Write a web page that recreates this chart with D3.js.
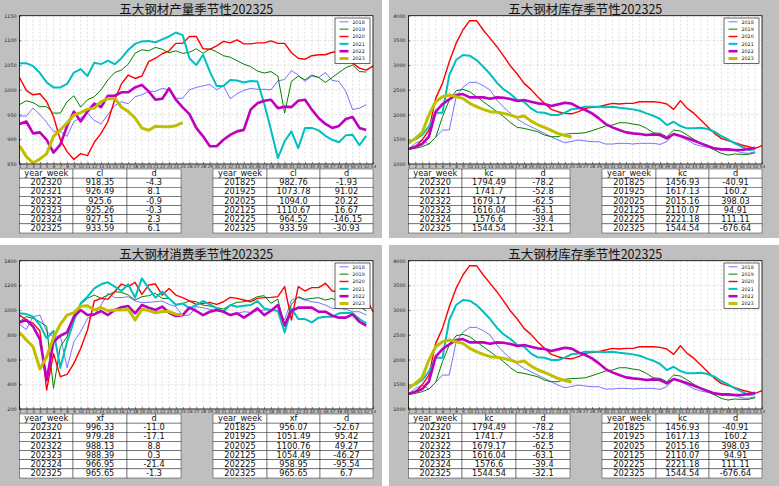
<!DOCTYPE html>
<html><head><meta charset="utf-8">
<script src="https://cdn.jsdelivr.net/npm/d3@7"></script>
<style>body{margin:0;background:#fff;} svg{display:block;}</style>
</head><body><svg id="c" width="779" height="486"></svg>
<script>
const weeks = d3.range(1, 54);
const years = ["2018","2019","2020","2021","2022","2023"];

// 产量 (cl)
const cl2018 = [947,947,963,950,934,916,916,906,936,943,953,938,931,950,968,976,972,986,990,997,997,1003,1000,983,982.76,1000,1005,1008,1011,1000,1008,982,992,999,1003,1001,1001,1000,1018,1021,1039,1030,1017,1028,1025,1035,1019,1017,997,960,963,970];
const cl2019 = [970,978,974,966,966,953,953,976,988,965,980,986,1000,1020,1035,1040,1052,1074,1081,1079,1086,1082,1075,1079,1073.78,1076,1083,1074,1083,1077,1069,1066,1059,1052,1047,1038,1034,1037,1028,953,1017,1028,1020,1030,1025,1015,1025,1035,1045,1050,1037,1036];
const cl2020 = [1025,999,990,992,976,946,899,875,859,871,867,894,912,936,980,1012,1030,1023,1028,1057,1064,1073,1079,1094,1094.0,1108,1108,1083,1082,1089,1098,1095,1101,1093,1093,1095,1095,1099,1094,1094,1075,1064,1062,1069,1071,1071,1076,1076,1067,1054,1044,1040,1048];
const cl2021 = [1054,1054,1048,1034,1015,1005,1005,1012,1035,1042,1028,1055,1052,1059,1052,1064,1081,1093,1098,1099,1096,1102,1108,1116,1110.67,1064,1050,1071,1037,1008,1008,1020,1019,1015,1018,1017,972,919,862,896,916,882,923,923,918,907,899,894,908,909,888,907];
const cl2022 = [931,936,912,914,899,873,889,927,956,936,956,972,965,988,988,995,995,1005,1010,997,980,982,1003,980,964.52,951,923,906,886,886,899,909,916,919,960,973,978,980,963,966,965,978,980,960,943,931,923,927,941,945,923,919];
const cl2023 = [887,865,852,860,871,906,919,933,949,954,961,963,976,982,983,965,956,943,922.65,918.35,926.49,925.6,925.26,927.51,933.59];

// 库存 (kc)
const kc2018 = [1303,1418,1485,1404,1539,1687,1687,2361,2550,2651,2651,2584,2496,2294,2146,2024,1910,1822,1755,1687,1620,1552,1485,1431,1456.93,1485,1465,1451,1451,1404,1404,1418,1418,1404,1418,1418,1418,1397,1451,1620,1552,1485,1404,1363,1337,1316,1283,1269,1269,1229,1215,1249];
const kc2019 = [1296,1316,1350,1404,1539,1957,2294,2483,2510,2463,2361,2260,2159,2058,1957,1835,1741,1721,1687,1653,1586,1552,1552,1600,1617.13,1620,1633,1674,1721,1768,1788,1835,1835,1808,1788,1721,1633,1620,1552,1687,1667,1586,1498,1418,1350,1283,1215,1181,1202,1195,1195,1229];
const kc2020 = [1296,1350,1485,1687,2328,2631,3069,3440,3710,3899,3899,3710,3541,3373,3184,2982,2820,2631,2510,2361,2227,2105,2058,2024,2015.16,2058,2125,2146,2159,2193,2227,2213,2227,2227,2260,2260,2260,2247,2213,2105,2280,2125,2024,1889,1755,1620,1519,1472,1431,1384,1350,1316,1370];
const kc2021 = [1451,1498,1586,1755,2038,2038,2800,3103,3204,3191,3103,2968,2820,2645,2510,2415,2294,2260,2125,2045,2038,1990,1990,2038,2110.07,2125,2159,2159,2159,2146,2159,2139,2125,2105,2078,2024,1977,1910,1788,1855,1768,1721,1721,1734,1707,1653,1566,1498,1418,1350,1283,1296];
const kc2022 = [1303,1350,1404,1552,2058,2213,2307,2395,2415,2348,2348,2348,2321,2348,2341,2314,2274,2294,2260,2227,2213,2173,2206,2240,2221.18,2146,2092,2024,1923,1808,1741,1687,1640,1620,1606,1586,1600,1586,1519,1606,1566,1519,1472,1418,1363,1316,1296,1296,1283,1283,1303,1330];
const kc2023 = [1418,1519,1633,1990,2260,2361,2395,2361,2328,2227,2159,2105,2058,2045,2024,1990,1943,1970,1872.69,1794.49,1741.7,1679.17,1616.04,1576.6,1544.54];

// 消费 (xf)
const xf2018 = [885,844,947,960,826,785,793,534,745,826,933,960,1041,1136,1101,1101,1109,1074,1060,1063,1068,1074,1047,1028,956.07,960,1028,1020,1006,993,993,960,974,987,982,995,1001,1001,993,920,1082,1101,1082,1068,1060,1041,1014,1014,1006,987,987,960];
const xf2019 = [906,947,933,906,866,367,704,785,960,1047,1095,1122,1095,1122,1149,1144,1122,1082,1109,1117,1136,1095,1095,1047,1051.49,1074,1068,1041,1033,1020,1009,1041,1063,1068,1082,1109,1117,1055,1090,866,1047,1109,1087,1095,1101,1082,1095,1063,1063,1055,1028,993];
const xf2020 = [960,920,893,831,354,650,462,480,569,690,839,1074,1095,1087,1149,1211,1190,1225,1128,1203,1211,1122,1176,1122,1100.76,1074,1047,1055,1063,1047,1068,1103,1095,1082,1068,1095,1101,1103,1109,1190,920,1190,1155,1182,1182,1217,1155,1149,1136,1109,1122,1095,987];
const xf2021 = [974,968,947,879,772,831,534,745,912,1055,1109,1176,1209,1225,1190,1155,1209,1101,1257,1176,1101,1149,1095,1041,1054.49,1014,1041,1074,1047,1014,987,1041,1028,1036,1041,1074,1014,1001,995,820,1014,928,928,901,939,947,947,974,979,974,928,893];
const xf2022 = [901,920,866,766,434,745,793,820,947,1001,960,966,993,960,1001,1023,1033,974,1041,1020,1001,1028,979,952,958.95,1020,993,960,987,1001,987,960,974,939,974,1014,960,995,1041,879,993,1020,1020,1020,987,987,955,939,939,966,906,874];
const xf2023 = [820,758,704,524,623,777,885,960,979,1032,1036,1001,1020,995,1001,1001,1006,920,1007.33,996.33,979.28,988.13,988.39,966.95,965.65];

// tables
const clRecent = [["202320","918.35","-4.3"],["202321","926.49","8.1"],["202322","925.6","-0.9"],["202323","925.26","-0.3"],["202324","927.51","2.3"],["202325","933.59","6.1"]];
const clYoY = [["201825","982.76","-1.93"],["201925","1073.78","91.02"],["202025","1094.0","20.22"],["202125","1110.67","16.67"],["202225","964.52","-146.15"],["202325","933.59","-30.93"]];
const kcRecent = [["202320","1794.49","-78.2"],["202321","1741.7","-52.8"],["202322","1679.17","-62.5"],["202323","1616.04","-63.1"],["202324","1576.6","-39.4"],["202325","1544.54","-32.1"]];
const kcYoY = [["201825","1456.93","-40.91"],["201925","1617.13","160.2"],["202025","2015.16","398.03"],["202125","2110.07","94.91"],["202225","2221.18","111.11"],["202325","1544.54","-676.64"]];
const xfRecent = [["202320","996.33","-11.0"],["202321","979.28","-17.1"],["202322","988.13","8.8"],["202323","988.39","0.3"],["202324","966.95","-21.4"],["202325","965.65","-1.3"]];
const xfYoY = [["201825","956.07","-52.67"],["201925","1051.49","95.42"],["202025","1100.76","49.27"],["202125","1054.49","-46.27"],["202225","958.95","-95.54"],["202325","965.65","6.7"]];

const styles = {
  "2018": {c:"#3a3aff", w:0.7},
  "2019": {c:"#008000", w:1.0},
  "2020": {c:"#ff0000", w:1.4},
  "2021": {c:"#00bfbf", w:2.0},
  "2022": {c:"#bf00bf", w:2.6},
  "2023": {c:"#bfbf00", w:3.0}
};

const panels = [
  {ox:0, oy:0, w:382, h:238, title:"五大钢材产量季节性202325", series:[cl2018,cl2019,cl2020,cl2021,cl2022,cl2023], dom:[850,1150], step:50, col:"cl", recent:clRecent, yoy:clYoY},
  {ox:389, oy:0, w:390, h:238, title:"五大钢材库存季节性202325", series:[kc2018,kc2019,kc2020,kc2021,kc2022,kc2023], dom:[1000,4000], step:500, col:"kc", recent:kcRecent, yoy:kcYoY},
  {ox:0, oy:245, w:382, h:241, title:"五大钢材消费季节性202325", series:[xf2018,xf2019,xf2020,xf2021,xf2022,xf2023], dom:[200,1400], step:200, col:"xf", recent:xfRecent, yoy:xfYoY},
  {ox:389, oy:245, w:390, h:241, title:"五大钢材库存季节性202325", series:[kc2018,kc2019,kc2020,kc2021,kc2022,kc2023], dom:[1000,4000], step:500, col:"kc", recent:kcRecent, yoy:kcYoY}
];

const svg = d3.select("#c");
const L = 19.5, R = 373, T = 15.7, B = 164;

panels.forEach(p => {
  const g = svg.append("g").attr("transform", `translate(${p.ox},${p.oy})`);
  g.append("rect").attr("width", p.w).attr("height", p.h).attr("fill", "#bfbfbf");
  g.append("rect").attr("x", L).attr("y", T).attr("width", R - L).attr("height", B - T).attr("fill", "#fff");

  const x = d3.scaleLinear().domain([1, 53]).range([L, R]);
  const y = d3.scaleLinear().domain(p.dom).range([B, T]);
  const yt = d3.range(p.dom[0], p.dom[1] + 1, p.step);

  // grid
  g.append("g").selectAll("line").data(weeks).join("line")
    .attr("x1", d => x(d)).attr("x2", d => x(d)).attr("y1", T).attr("y2", B)
    .attr("stroke", "#c8c8c8").attr("stroke-width", 0.6).attr("stroke-dasharray", "2,2");
  g.append("g").selectAll("line").data(yt).join("line")
    .attr("x1", L).attr("x2", R).attr("y1", d => y(d)).attr("y2", d => y(d))
    .attr("stroke", "#c8c8c8").attr("stroke-width", 0.6).attr("stroke-dasharray", "2,2");

  // axes
  const ax = g.append("g").attr("transform", `translate(0,${B})`)
    .call(d3.axisBottom(x).tickValues(weeks).tickSize(-2).tickPadding(1).tickFormat(d3.format("d")));
  ax.selectAll("text").attr("font-size", 4.2).attr("font-family", "DejaVu Sans").attr("fill", "#222");
  const ay = g.append("g").attr("transform", `translate(${L},0)`)
    .call(d3.axisLeft(y).tickValues(yt).tickSize(-2).tickPadding(3).tickFormat(d3.format("d")));
  ay.selectAll("text").attr("font-size", 4.8).attr("font-family", "DejaVu Sans").attr("fill", "#222");
  g.selectAll(".domain").attr("stroke", "none");
  g.selectAll(".tick line").attr("stroke", "#000").attr("stroke-width", 0.5);

  // lines
  const line = d3.line().x((d, i) => x(i + 1)).y(d => y(d));
  p.series.forEach((s, i) => {
    const st = styles[years[i]];
    g.append("path").datum(s).attr("d", line).attr("fill", "none")
      .attr("stroke", st.c).attr("stroke-width", st.w).attr("stroke-linejoin", "round");
  });

  // frame
  g.append("rect").attr("x", L).attr("y", T).attr("width", R - L).attr("height", B - T)
    .attr("fill", "none").attr("stroke", "#000").attr("stroke-width", 0.8);

  // title
  g.append("text").attr("x", (L + R) / 2).attr("y", 13.5).attr("text-anchor", "middle")
    .attr("font-family", "'Noto Sans CJK SC', sans-serif").attr("font-size", 12.5).attr("fill", "#111")
    .text(p.title);

  // legend
  const lg = g.append("g");
  lg.append("rect").attr("x", 335).attr("y", 18).attr("width", 35).attr("height", 45.5)
    .attr("fill", "#fff").attr("stroke", "#000").attr("stroke-width", 0.6);
  years.forEach((yr, i) => {
    const yy = 21.8 + i * 7.35;
    lg.append("line").attr("x1", 339.5).attr("x2", 348.5).attr("y1", yy).attr("y2", yy)
      .attr("stroke", styles[yr].c).attr("stroke-width", styles[yr].w);
    lg.append("text").attr("x", 352.5).attr("y", yy + 1.7).attr("font-size", 4.8)
      .attr("font-family", "DejaVu Sans").attr("fill", "#111").text(yr);
  });

  // tables
  const header = ["year_week", p.col, "d"];
  const drawTable = (cols, rows) => {
    const tb = g.append("g");
    const all = [header].concat(rows);
    const rh = (233 - 169) / 7;
    all.forEach((r, ri) => {
      r.forEach((c, ci) => {
        tb.append("rect").attr("x", cols[ci]).attr("y", 169 + ri * rh)
          .attr("width", cols[ci + 1] - cols[ci]).attr("height", rh)
          .attr("fill", "#fff").attr("stroke", "#333").attr("stroke-width", 0.5);
        tb.append("text").attr("x", (cols[ci] + cols[ci + 1]) / 2).attr("y", 169 + ri * rh + rh * 0.78)
          .attr("text-anchor", "middle").attr("font-size", 8.2).attr("font-family", "DejaVu Sans")
          .attr("fill", "#111").text(c);
      });
    });
  };
  drawTable([19.5, 73, 127, 181], p.recent);
  drawTable([213, 267, 320, 373], p.yoy);
});
</script></body></html>
